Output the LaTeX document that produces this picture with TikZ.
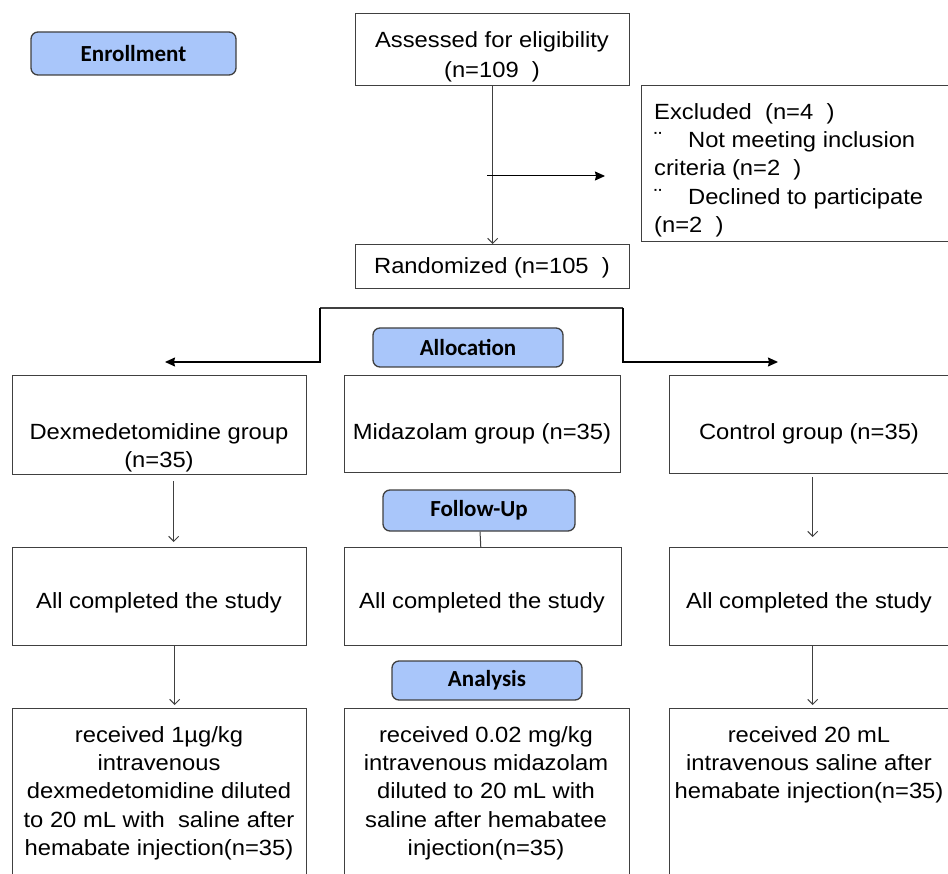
\documentclass[tikz,border=0pt]{standalone}
\usepackage{fontspec}
\setmainfont[FakeStretch=1.08]{Liberation Sans}
\newfontfamily\stagefont{Carlito}
\usetikzlibrary{arrows.meta}

\definecolor{stageblue}{RGB}{169,198,250}
\definecolor{linegray}{RGB}{64,64,64}

\tikzset{
  box/.style={draw=linegray, line width=1.4pt, anchor=north west, inner sep=0pt},
  stage/.style={draw=linegray, line width=1.3pt, fill=stageblue, rounded corners=7pt,
    inner sep=0pt, font=\stagefont\bfseries\fontsize{23}{26}\selectfont},
  txt/.style={font=\fontsize{22}{28.4}\selectfont, align=center, anchor=north, inner sep=0pt},
  varrow/.style={draw=linegray, line width=1pt, -{Straight Barb[length=5pt,width=10pt]}},
  harrow/.style={draw=black, line width=1.3pt, -{Stealth[length=10pt,width=9pt,inset=1pt]}},
}

\begin{document}
\begin{tikzpicture}[x=1pt,y=-1pt]
  \useasboundingbox (0,0) rectangle (948,874);
  \clip (0,0) rectangle (948,874);

  % stage labels
  \node[stage, minimum width=205, minimum height=43] (enroll) at (133.5,53.5) {Enrollment};
  \node[stage, minimum width=190, minimum height=39] (alloc) at (468,347.5) {Allocation};
  \node[stage, minimum width=192, minimum height=41] (follow) at (479,510.5) {Follow-Up};
  \node[stage, minimum width=190, minimum height=39] (analys) at (487,680.5) {Analysis};

  % enrollment
  \node[box, minimum width=274, minimum height=72] (assess) at (355,13) {};
  \node[txt] (assesst) at (492,31) {Assessed for eligibility\\[1.6pt](n=109~~)};
  \node[box, minimum width=274, minimum height=44] (rand) at (355,244) {};
  \node[txt] (randt) at (492,257) {Randomized (n=105~~)};
  \node[box, minimum width=320, minimum height=156] (excl) at (641,85) {};
  \node[txt, anchor=north west, align=left] (exclt) at (654,103)
    {Excluded~~(n=4~~)\\{¨}\hspace{26pt}Not meeting inclusion\\criteria (n=2~~)\\
     {¨}\hspace{26pt}Declined to participate\\(n=2~~)};
  \draw[varrow] (assess) -- (rand);
  \coordinate (exclfrom) at (487,176);
  \draw[harrow, line width=1pt, shorten >=36pt] (exclfrom) -- (exclfrom -| excl.west);

  % allocation
  \coordinate (splitl) at (320,308);
  \coordinate (splitr) at (623,308);
  \coordinate (todex) at (165,362);
  \coordinate (toctl) at (778,362);
  \draw[linegray, line width=1.3pt] (splitl) -- (splitr);
  \draw[harrow] (splitl) |- (todex);
  \draw[harrow] (splitr) |- (toctl);

  \node[box, minimum width=294, minimum height=99] (dexg) at (12,375) {};
  \node[box, minimum width=276, minimum height=97] (midg) at (344,375) {};
  \node[box, minimum width=290, minimum height=98] (ctlg) at (669,375) {};
  \node[txt] (dexgt) at (159,423) {Dexmedetomidine group\\(n=35)};
  \node[txt] (midgt) at (482,423) {Midazolam group (n=35)};
  \node[txt] (ctlgt) at (809,423) {Control group (n=35)};

  % follow-up
  \node[box, minimum width=294, minimum height=98] (dexc) at (12,547) {};
  \node[box, minimum width=277, minimum height=98] (midc) at (344,547) {};
  \node[box, minimum width=290, minimum height=98] (ctlc) at (669,547) {};
  \node[txt] (dexct) at (159,592) {All completed the study};
  \node[txt] (midct) at (482,592) {All completed the study};
  \node[txt] (ctlct) at (809,592) {All completed the study};
  \draw[varrow, shorten <=6pt, shorten >=5pt] ([xshift=14pt]dexg.south) -- ([xshift=14pt]dexc.north);
  \draw[varrow, shorten <=3pt, shorten >=10pt] ([xshift=-2pt]ctlg.south) -- ([xshift=-2pt]ctlc.north);
  \draw[linegray, line width=1pt] (follow) -- (midc);

  % analysis
  \node[box, minimum width=294, minimum height=200] (dexr) at (12,708) {};
  \node[box, minimum width=285, minimum height=200] (midr) at (344,708) {};
  \node[box, minimum width=290, minimum height=200] (ctlr) at (669,708) {};
  \node[txt] (dexrt) at (159,726) {received 1µg/kg\\intravenous\\dexmedetomidine diluted\\
    to 20 mL with~~saline after\\hemabate injection(n=35)};
  \node[txt] (midrt) at (486,726) {received 0.02 mg/kg\\intravenous midazolam\\diluted to 20 mL with\\
    saline after hemabatee\\injection(n=35)};
  \node[txt] (ctlrt) at (809,726) {received 20 mL\\intravenous saline after\\hemabate injection(n=35)};
  \draw[varrow, shorten >=3pt] ([xshift=15pt]dexc.south) -- ([xshift=15pt]dexr.north);
  \draw[varrow, shorten >=3pt] ([xshift=-2pt]ctlc.south) -- ([xshift=-2pt]ctlr.north);
\end{tikzpicture}
\end{document}
